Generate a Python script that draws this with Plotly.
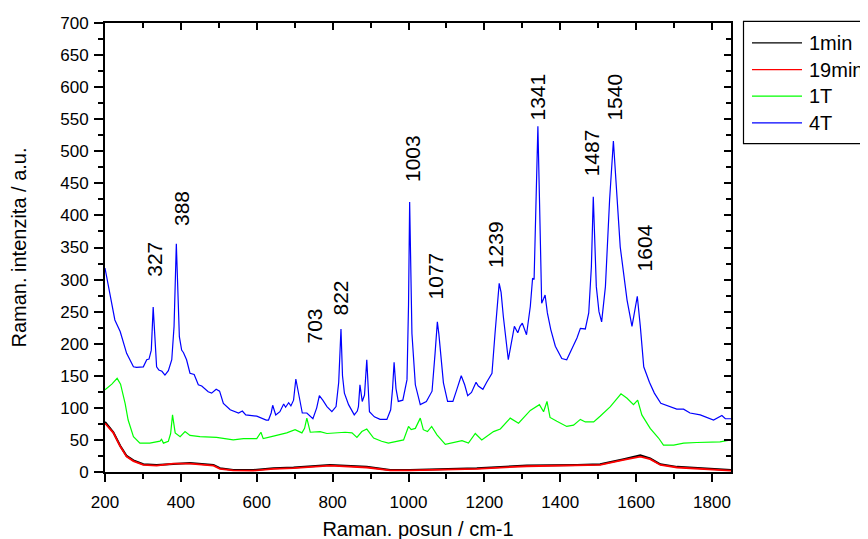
import plotly.graph_objects as go

# ---- data ----
blue_x = [200, 213, 226, 240, 257, 275, 283, 301, 310, 316, 322, 327, 332, 336, 342, 350, 358, 367, 376, 382,
          388, 396, 402, 407, 415, 424, 435, 446, 455, 472, 481, 493, 502, 512, 530, 552, 562, 571, 600, 625,
          631, 638, 642, 650, 661, 671, 676, 684, 690, 697, 703, 711, 720, 732, 748, 758, 765, 774, 785, 798,
          809, 816, 822, 826, 831, 842, 857, 865, 868, 872, 878, 884, 890, 897, 910, 925, 943, 953, 958, 962,
          967, 973, 985, 996, 1000, 1003, 1006, 1009, 1018, 1031, 1047, 1062, 1070, 1076, 1080, 1085, 1092, 1103, 1117, 1127,
          1139, 1148, 1156, 1166, 1178, 1184, 1196, 1206, 1220, 1228, 1239, 1244, 1250, 1263, 1272, 1279, 1288, 1294, 1300, 1306,
          1311, 1321, 1327, 1331, 1336, 1341, 1345, 1347, 1351, 1356, 1360, 1366, 1375, 1387, 1404, 1417, 1430, 1444, 1453, 1466,
          1475, 1482, 1487, 1491, 1495, 1502, 1509, 1519, 1530, 1540, 1548, 1558, 1576, 1589, 1595, 1603, 1611, 1620, 1635, 1648,
          1665, 1690, 1707, 1725, 1742, 1769, 1804, 1826, 1835, 1850]
blue_y = [318, 279, 237, 219, 185, 164, 163, 164, 175, 176, 190, 257, 201, 164, 159, 157, 151, 158, 175, 227,
          356, 211, 190, 186, 175, 154, 152, 136, 134, 125, 123, 129, 126, 107, 97, 92, 95, 89, 87, 81,
          81, 92, 104, 89, 94, 106, 101, 108, 103, 112, 145, 118, 92, 92, 83, 100, 119, 112, 102, 94,
          102, 140, 223, 150, 123, 105, 89, 95, 102, 136, 110, 120, 175, 94, 86, 82, 82, 97, 130, 171,
          130, 110, 112, 144, 260, 421, 300, 216, 136, 105, 110, 126, 185, 234, 215, 185, 139, 110, 110, 128,
          150, 136, 119, 124, 140, 134, 129, 140, 154, 216, 294, 280, 242, 175, 206, 227, 217, 227, 232, 222,
          214, 258, 302, 300, 400, 539, 430, 372, 263, 270, 276, 248, 222, 196, 177, 175, 191, 209, 224, 223,
          248, 320, 429, 360, 289, 250, 234, 289, 424, 516, 439, 351, 268, 227, 247, 274, 227, 164, 140, 123,
          107, 102, 98, 98, 92, 89, 81, 88, 83, 83]

green_x = [200, 218, 232, 241, 253, 261, 275, 292, 318, 345, 349, 354, 367, 373, 378, 385, 398, 411, 424, 450,
           494, 538, 565, 600, 611, 617, 644, 679, 701, 719, 726, 732, 741, 767, 785, 802, 833, 851, 864, 877,
           890, 908, 929, 947, 969, 987, 1000, 1007, 1018, 1031, 1039, 1050, 1061, 1075, 1097, 1115, 1141, 1158, 1176, 1193,
           1224, 1242, 1268, 1290, 1321, 1345, 1356, 1365, 1373, 1391, 1417, 1435, 1453, 1466, 1488, 1505, 1532, 1560, 1576, 1593,
           1604, 1615, 1637, 1659, 1672, 1699, 1725, 1760, 1795, 1821, 1850]
green_y = [128, 137, 146, 137, 107, 81, 55, 45, 45, 48, 51, 45, 48, 60, 89, 61, 55, 63, 57, 55,
           54, 50, 52, 52, 62, 52, 56, 61, 66, 61, 68, 84, 62, 63, 60, 61, 62, 61, 54, 63,
           67, 53, 48, 45, 48, 50, 71, 66, 68, 84, 66, 63, 71, 58, 43, 45, 49, 45, 60, 50,
           63, 67, 84, 76, 96, 105, 94, 110, 85, 79, 71, 73, 82, 78, 78, 87, 102, 122, 115, 105,
           112, 89, 68, 53, 42, 42, 45, 46, 46, 47, 50]

red_x = [200, 222, 240, 257, 275, 301, 336, 380, 424, 486, 503, 538, 591, 644, 697, 793, 890, 952, 1004, 1180,
         1312, 1444, 1505, 1567, 1611, 1637, 1664, 1708, 1769, 1850]
red_y = [76, 61, 40, 24, 17, 11, 10, 13, 13, 10, 5, 2.5, 2, 5, 6, 10, 7, 2.5, 2.5, 5,
         9, 10, 11, 19, 24, 20, 11, 7, 5, 2]
black_x = red_x
black_y = [78, 62, 41, 25, 18, 12, 11, 13, 14, 11, 6, 3, 3, 6, 7, 11, 8, 3, 3, 6,
           10, 11, 12, 20, 26, 21, 12, 8, 6, 3]

series_names = ["1min", "19min", "1T", "4T"]
series_colors = ["#000000", "#ff0000", "#00ff00", "#0000ff"]

peak_labels = ["327", "388", "703", "822", "1003", "1077", "1239", "1341", "1487", "1540", "1604"]
peak_label_x = [332, 402, 753, 822, 1012, 1070, 1230, 1339, 1483, 1542, 1623]
peak_label_y = [331, 411, 228, 272, 488, 305, 355, 584, 498, 584, 350]

x_range = [200, 1850]
y_range = [0, 700]

FONT = "Liberation Sans, Arial, sans-serif"

fig = go.Figure()
for xs, ys, name, col, w in [(black_x, black_y, series_names[0], series_colors[0], 2),
                             (red_x, red_y, series_names[1], series_colors[1], 1.8),
                             (green_x, green_y, series_names[2], series_colors[2], 1.2),
                             (blue_x, blue_y, series_names[3], series_colors[3], 1.2)]:
    fig.add_trace(go.Scatter(x=xs, y=ys, mode="lines", name=name,
                             line=dict(color=col, width=w), showlegend=False))

# empty trace so the mirrored (top/right) axes exist
fig.add_trace(go.Scatter(x=[], y=[], xaxis="x2", yaxis="y2", showlegend=False))

axis_common = dict(showline=True, linecolor="black", linewidth=2, showgrid=False, zeroline=False,
                   tickcolor="black", tickwidth=1.5, automargin=False)

# the page body adds an 8px offset, so margins are compensated
fig.update_layout(
    width=868, height=539,
    margin=dict(l=97, r=145, t=15, b=75),
    paper_bgcolor="white", plot_bgcolor="white",
    font=dict(family=FONT, color="black", size=17),
    xaxis=dict(range=x_range, dtick=200, tick0=200, ticks="outside", ticklen=8, ticklabelstandoff=6,
               minor=dict(dtick=100, ticks="outside", ticklen=5, tickcolor="black", tickwidth=1.5),
               title=dict(text="Raman. posun / cm-1", font=dict(size=20), standoff=11),
               tickfont=dict(size=17), **axis_common),
    yaxis=dict(range=y_range, dtick=50, tick0=0, ticks="outside", ticklen=9, ticklabelstandoff=2,
               minor=dict(dtick=25, ticks="outside", ticklen=5, tickcolor="black", tickwidth=1.5),
               title=dict(text="Raman. intenzita / a.u.", font=dict(size=20), standoff=28),
               tickfont=dict(size=17), **axis_common),
    xaxis2=dict(range=x_range, overlaying="x", side="top", dtick=200, tick0=200, ticks="inside", ticklen=7,
                minor=dict(dtick=100, ticks="inside", ticklen=5, tickcolor="black", tickwidth=1.5),
                showticklabels=False, **axis_common),
    yaxis2=dict(range=y_range, overlaying="y", side="right", dtick=50, tick0=0, ticks="inside", ticklen=7,
                minor=dict(dtick=25, ticks="inside", ticklen=5, tickcolor="black", tickwidth=1.5),
                showticklabels=False, **axis_common),
)

for t, px_, py_ in zip(peak_labels, peak_label_x, peak_label_y):
    fig.add_annotation(x=px_, y=py_, text=t, textangle=-90, showarrow=False,
                       xanchor="center", yanchor="middle", font=dict(size=21, family=FONT, color="black"))

# legend box drawn manually (it runs off the right edge like the reference)
def px2paper_x(p):
    return (p - 105) / (731 - 105)

def px2paper_y(p):
    return (472.3 - p) / (472.3 - 22.7)

fig.add_shape(type="rect", xref="paper", yref="paper",
              x0=px2paper_x(743.5), x1=px2paper_x(880), y0=px2paper_y(143.5), y1=px2paper_y(21),
              line=dict(color="black", width=1.2), fillcolor="white", layer="above")
legend_rows = [42.7, 69.3, 96, 122.7]
for name, col, ry in zip(series_names, series_colors, legend_rows):
    fig.add_shape(type="line", xref="paper", yref="paper",
                  x0=px2paper_x(752), x1=px2paper_x(802), y0=px2paper_y(ry), y1=px2paper_y(ry),
                  line=dict(color=col, width=1.2), layer="above")
    fig.add_annotation(xref="paper", yref="paper", x=px2paper_x(807), y=px2paper_y(ry), text=name,
                       showarrow=False, xanchor="left", yanchor="middle",
                       font=dict(size=20, family=FONT, color="black"))

fig.write_html("out.html")
